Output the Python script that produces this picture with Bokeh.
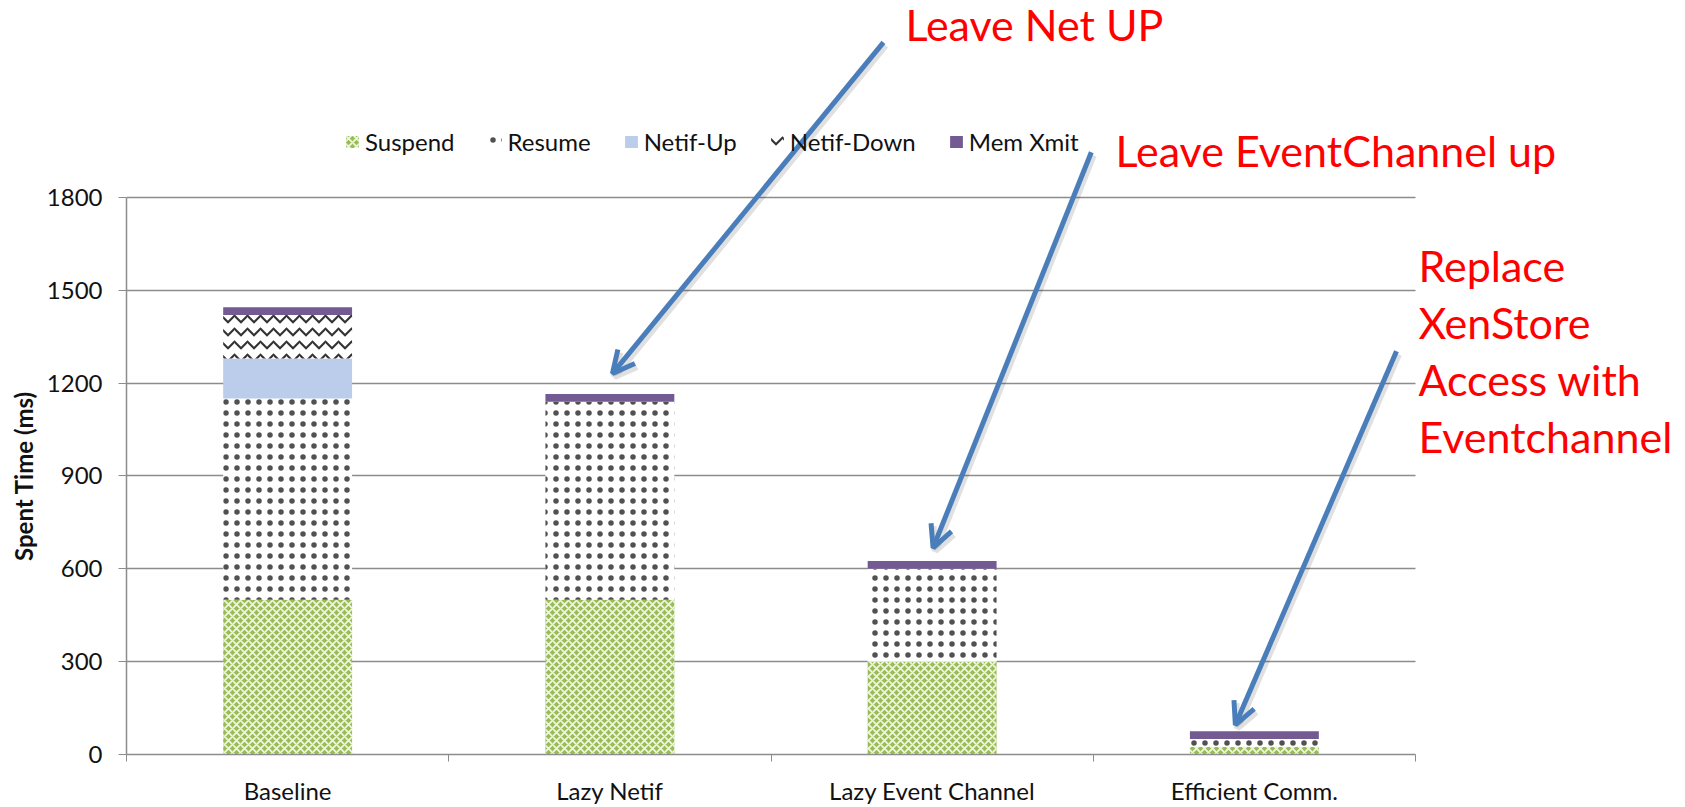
import numpy as np
from bokeh.plotting import figure
from bokeh.models import (ColumnDataSource, Range1d, FixedTicker, Legend, LegendItem,
                          Arrow, OpenHead, Label, Title, Grid)
from bokeh.embed import file_html
from bokeh.resources import INLINE

# Migration phases (ms) per optimisation step
categories = ["Baseline", "Lazy Netif", "Lazy Event Channel", "Efficient Comm."]
suspend = [500, 500, 300, 25]
resume = [650, 640, 300, 25]
netif_up = [130, 0, 0, 0]
netif_down = [140, 0, 0, 0]
mem_xmit = [25, 25, 25, 25]
series_names = ["Suspend", "Resume", "Netif-Up", "Netif-Down", "Mem Xmit"]
y_ticks = [0, 300, 600, 900, 1200, 1500, 1800]
y_max = 1800

# Callouts: text lines, anchor (data units) and the arrow pointing at a bar
note_texts = [["Leave Net UP"], ["Leave EventChannel up"],
              ["Replace", "XenStore", "Access with", "Eventchannel"]]
note_anchor_x = [2.417, 3.069, 4.009]
note_anchor_y = [2359, 1951, 1579]
arrow_tail_x = [2.349, 2.994, 3.941]
arrow_tail_y = [2301, 1946, 1303]
arrow_head_x = [1.508, 2.503, 3.441]
arrow_head_y = [1231, 668, 96]

FONT = "Lato"
GREY = "#8c8c8c"
TEXT = "#111111"

# canvas geometry: the drawing area runs to the top/right edges so that the
# callouts and legend can sit above and beside the bars
W, H = 1685, 807
FRAME_LEFT, FRAME_BOTTOM = 126, 758      # px from left / from top
AXES_RIGHT, AXES_TOP = 1415, 198         # px where the value axes end
n = len(categories)
x_end = n * (W - FRAME_LEFT) / (AXES_RIGHT - FRAME_LEFT)
y_end = y_max * FRAME_BOTTOM / (FRAME_BOTTOM - AXES_TOP)
px_x = x_end / (W - FRAME_LEFT)          # data units per pixel
px_y = y_end / FRAME_BOTTOM

x_pos = [i + 0.5 for i in range(n)]
series = [suspend, resume, netif_up, netif_down, mem_xmit]
styles = [
    dict(fill_color="#9bbb59", hatch_pattern="diagonal_cross", hatch_color="#eef4e2",
         hatch_scale=8, hatch_weight=1.8),
    dict(fill_color="white", hatch_pattern="dot", hatch_color="#333333",
         hatch_scale=11, hatch_weight=1.0, hatch_alpha=0.85),
    dict(fill_color="#bbcdea"),
    dict(fill_color="white", hatch_pattern="horizontal_wave", hatch_color="#333333",
         hatch_scale=13, hatch_weight=2.2),
    dict(fill_color="#735a92"),
]

p = figure(width=W, height=H, x_range=Range1d(0, x_end), y_range=Range1d(0, y_end),
           output_backend="svg", toolbar_location=None,
           min_border=0, min_border_left=FRAME_LEFT, min_border_right=0,
           min_border_top=0, min_border_bottom=H - FRAME_BOTTOM,
           outline_line_color=None)

# horizontal gridlines limited to the category span
if "cross_bounds" in Grid.properties():
    p.ygrid.ticker = FixedTicker(ticks=y_ticks)
    p.ygrid.bounds = (0, y_max)
    p.ygrid.cross_bounds = (0, n)
    p.ygrid.grid_line_color = GREY
    p.ygrid.grid_line_width = 1.5
else:
    p.ygrid.visible = False
    p.segment(x0=[0] * len(y_ticks), x1=[n] * len(y_ticks), y0=y_ticks, y1=y_ticks,
              line_color=GREY, line_width=1.5)
p.xgrid.visible = False

# stacked bars
bottoms = np.zeros(n)
items = []
for name, vals, st in zip(series_names, series, styles):
    vals = np.array(vals, dtype=float)
    src = ColumnDataSource(dict(x=x_pos, bottom=bottoms.copy(), top=bottoms + vals))
    r = p.vbar(x="x", bottom="bottom", top="top", width=0.4, source=src,
               line_color=None, **st)
    items.append(LegendItem(label=name, renderers=[r]))
    bottoms = bottoms + vals

# axes
p.xaxis.bounds = (0, n)
p.xaxis.ticker = FixedTicker(ticks=x_pos, minor_ticks=list(range(n + 1)))
p.xaxis.major_label_overrides = {x: c for x, c in zip(x_pos, categories)}
p.xaxis.major_tick_line_color = None
p.xaxis.minor_tick_line_color = GREY
p.xaxis.minor_tick_in = 0
p.xaxis.minor_tick_out = 7
p.xaxis.axis_line_color = GREY
p.xaxis.axis_line_width = 1.5
p.xaxis.major_label_standoff = 14
p.xaxis.major_label_text_font = FONT
p.xaxis.major_label_text_font_size = "24px"
p.xaxis.major_label_text_color = TEXT

p.yaxis.bounds = (0, y_max)
p.yaxis.ticker = FixedTicker(ticks=y_ticks)
p.yaxis.minor_tick_line_color = None
p.yaxis.major_tick_in = 0
p.yaxis.major_tick_out = 8
p.yaxis.major_tick_line_color = GREY
p.yaxis.axis_line_color = GREY
p.yaxis.axis_line_width = 1.5
p.yaxis.major_label_standoff = 16
p.yaxis.major_label_text_font = FONT
p.yaxis.major_label_text_font_size = "24px"
p.yaxis.major_label_text_color = TEXT

# y-axis title, centred on the 0..1800 span rather than the whole drawing area
axis_mid_px = (AXES_TOP + FRAME_BOTTOM) / 2
title_len_px = 173
p.add_layout(Title(text="Spent Time (ms)", align="left",
                   offset=FRAME_BOTTOM - axis_mid_px - title_len_px / 2,
                   text_font=FONT, text_font_size="24px", text_font_style="bold",
                   text_color=TEXT, standoff=12), "left")

legend = Legend(items=items, orientation="horizontal", location=(218, 598),
                label_text_font=FONT, label_text_font_size="24px", label_text_color=TEXT,
                glyph_width=16, glyph_height=15, spacing=32, label_standoff=5,
                padding=0, margin=0, border_line_color=None, background_fill_alpha=0)
p.add_layout(legend, "center")

# callout arrows (with a soft drop shadow) and texts
ARROW_BLUE = "#4a7ebb"
for xs, ys, xe, ye in zip(arrow_tail_x, arrow_tail_y, arrow_head_x, arrow_head_y):
    dx, dy = 2 * px_x, -3 * px_y
    p.add_layout(Arrow(x_start=xs + dx, y_start=ys + dy, x_end=xe + dx, y_end=ye + dy,
                       line_color="black", line_alpha=0.12, line_width=7,
                       end=OpenHead(size=22, line_color="black", line_alpha=0.12,
                                    line_width=7)))
    p.add_layout(Arrow(x_start=xs, y_start=ys, x_end=xe, y_end=ye,
                       line_color=ARROW_BLUE, line_width=5,
                       end=OpenHead(size=22, line_color=ARROW_BLUE, line_width=5)))

for lines, ax, ay in zip(note_texts, note_anchor_x, note_anchor_y):
    for k, line in enumerate(lines):
        p.add_layout(Label(x=ax, y=ay, y_offset=-57 * k, text=line,
                           text_font=FONT, text_font_size="43px", text_color="#ff0000",
                           text_baseline="alphabetic"))

open("out.html", "w").write(file_html(p, INLINE))
